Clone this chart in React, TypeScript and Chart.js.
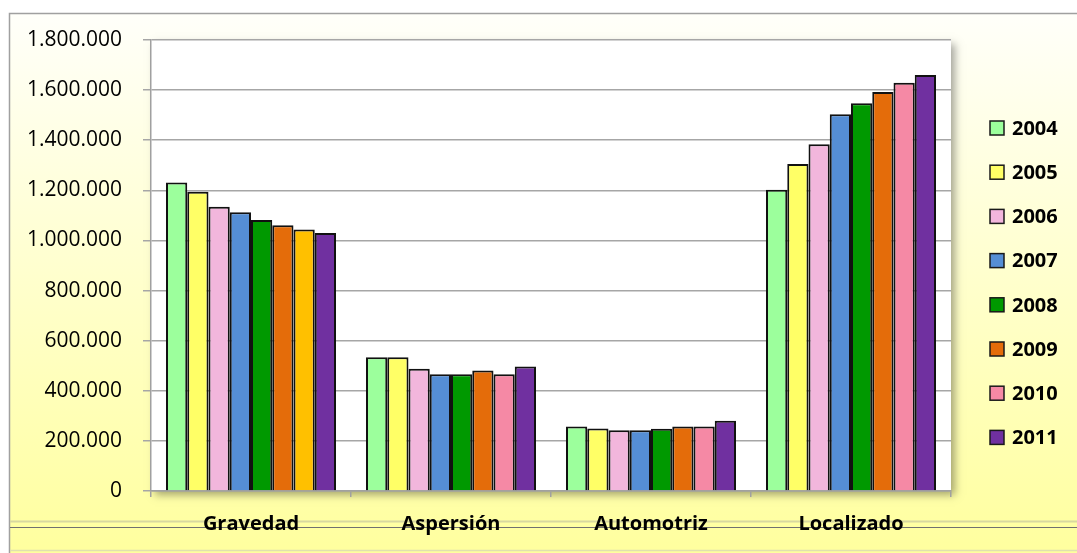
import React, { useEffect, useRef } from "react";
import { Chart, registerables } from "chart.js";

Chart.register(...registerables);

const categories = ["Gravedad", "Aspersión", "Automotriz", "Localizado"];
const years = ["2004", "2005", "2006", "2007", "2008", "2009", "2010", "2011"];

const v2004 = [1231000, 534000, 257000, 1202000];
const v2005 = [1194000, 534000, 249000, 1305000];
const v2006 = [1134000, 488000, 242000, 1384000];
const v2007 = [1113000, 466000, 242000, 1504000];
const v2008 = [1082000, 466000, 248000, 1548000];
const v2009 = [1061000, 481000, 257000, 1592000];
const v2010 = [1044000, 466000, 257000, 1629000];
const v2011 = [1030000, 497000, 280000, 1660000];

const seriesValues = [v2004, v2005, v2006, v2007, v2008, v2009, v2010, v2011];

const yearColors = ["#9CFF9C", "#FFFF66", "#F2B6DC", "#558ED5", "#009900", "#E46C0A", "#F589A5", "#7030A0"];
const gravedad2010Color = "#FFC000";

const yTickLabel = (v: number) => String(v).replace(/\B(?=(\d{3})+(?!\d))/g, ".");

const FONT = "'Open Sans', 'Noto Sans', sans-serif";

const backgroundPlugin = {
  id: "bgPlugin",
  beforeDraw(chart: any) {
    const { ctx, width, height, chartArea } = chart;
    ctx.save();
    ctx.fillStyle = "#ffffff";
    ctx.fillRect(0, 0, width, height);
    const g = ctx.createLinearGradient(0, 13, 0, height);
    g.addColorStop(0, "#FFFFFA");
    g.addColorStop(1, "#FFFF9E");
    ctx.fillStyle = g;
    ctx.fillRect(9, 13, width - 9, height - 13);
    // outer border
    ctx.strokeStyle = "#A0A0A0";
    ctx.lineWidth = 1.5;
    ctx.beginPath();
    ctx.moveTo(9.5, height);
    ctx.lineTo(9.5, 13.5);
    ctx.lineTo(width, 13.5);
    ctx.stroke();
    // bottom lines
    ctx.strokeStyle = "#D8D8A0";
    ctx.lineWidth = 2;
    ctx.beginPath();
    ctx.moveTo(10, 521.5);
    ctx.lineTo(width, 521.5);
    ctx.stroke();
    ctx.strokeStyle = "#707070";
    ctx.lineWidth = 1.2;
    ctx.beginPath();
    ctx.moveTo(10, 527.5);
    ctx.lineTo(width, 527.5);
    ctx.stroke();
    ctx.strokeStyle = "#E0E0B0";
    ctx.lineWidth = 1.5;
    ctx.beginPath();
    ctx.moveTo(10, 550.5);
    ctx.lineTo(width, 550.5);
    ctx.stroke();
    // plot area with shadow
    ctx.shadowColor = "rgba(0,0,0,0.35)";
    ctx.shadowBlur = 8;
    ctx.shadowOffsetX = 4;
    ctx.shadowOffsetY = 4;
    ctx.fillStyle = "#ffffff";
    ctx.fillRect(chartArea.left, chartArea.top, chartArea.right - chartArea.left, chartArea.bottom - chartArea.top);
    ctx.restore();
  },
};

const legendPlugin = {
  id: "customLegend",
  afterDraw(chart: any) {
    const { ctx } = chart;
    ctx.save();
    const x0 = 990;
    const y0 = 128;
    const step = 44.2;
    chart.data.datasets.forEach((ds: any, i: number) => {
      const cy = y0 + i * step;
      ctx.fillStyle = yearColors[i];
      ctx.fillRect(x0, cy - 7, 14, 14);
      ctx.strokeStyle = "#1a1a1a";
      ctx.lineWidth = 1.5;
      ctx.strokeRect(x0, cy - 7, 14, 14);
      ctx.fillStyle = "#000000";
      ctx.font = `bold 20px ${FONT}`;
      ctx.textBaseline = "middle";
      ctx.textAlign = "left";
      ctx.fillText(ds.label, x0 + 22, cy + 1);
    });
    ctx.restore();
  },
};

export default function App() {
  const ref = useRef<HTMLCanvasElement>(null);

  useEffect(() => {
    if (!ref.current) return;
    const datasets = years.map((y, i) => ({
      label: y,
      data: seriesValues[i],
      backgroundColor:
        y === "2010"
          ? categories.map((c) => (c === "Gravedad" ? gravedad2010Color : yearColors[i]))
          : yearColors[i],
      borderColor: "#111111",
      borderWidth: 2,
      barPercentage: 1.0,
      categoryPercentage: 0.85,
    }));
    const chart = new Chart(ref.current, {
      type: "bar",
      data: { labels: categories, datasets },
      plugins: [backgroundPlugin, legendPlugin],
      options: {
        responsive: false,
        animation: false,
        layout: { padding: { top: 40, right: 126, left: 0, bottom: 0 } },
        plugins: { legend: { display: false }, tooltip: { enabled: false } },
        scales: {
          x: {
            grid: { drawOnChartArea: false, drawTicks: true, tickLength: 6, color: "#A0A0A0", lineWidth: 1.5, offset: true },
            border: { display: true, color: "#A0A0A0", width: 1.5 },
            ticks: { color: "#000000", font: { family: FONT, size: 20, weight: "bold" }, padding: 15 },
            afterFit: (s: any) => {
              s.height = 62;
            },
          },
          y: {
            min: 0,
            max: 1800000,
            grid: { color: "#A6A6A6", lineWidth: 1.5, tickLength: 8 },
            border: { display: true, color: "#A0A0A0", width: 1.5 },
            ticks: {
              stepSize: 200000,
              color: "#000000",
              padding: 21,
              font: { family: FONT, size: 21 },
              callback: (v: any) => yTickLabel(Number(v)),
            },
            afterFit: (s: any) => {
              s.width = 151;
            },
          },
        },
      },
    });
    return () => chart.destroy();
  }, []);

  return (
    <div style={{ position: "absolute", left: 0, top: 0, width: 1077, height: 553 }}>
      <canvas ref={ref} width={1077} height={553} style={{ display: "block" }} />
    </div>
  );
}
